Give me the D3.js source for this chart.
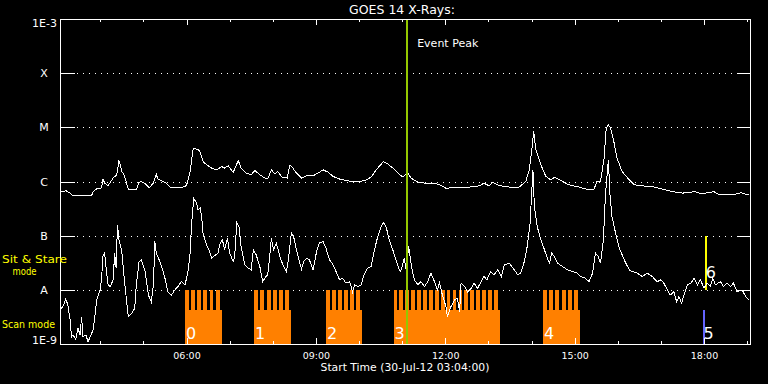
<!DOCTYPE html>
<html><head><meta charset="utf-8">
<script src="https://cdn.jsdelivr.net/npm/d3@7"></script>
<style>html,body{margin:0;background:#000;} svg{display:block}</style>
</head><body>
<svg id="c" width="768" height="384"></svg>
<script>
// ---------------- data ----------------
const chartTitle = "GOES 14 X-Rays:";
const xTitle = "Start Time (30-Jul-12 03:04:00)";
const startTime = "03:04", endTime = "19:04";
const yTickValues = [1e-9, 1e-8, 1e-7, 1e-6, 1e-5, 1e-4, 1e-3];
const yTickLabels = ["1E-9", "A", "B", "C", "M", "X", "1E-3"];
const eventPeak = "11:07";

// GOES long channel (1-8 A), flux W/m^2
const longChannel = [["03:04",6.6e-7],["03:13",6.7e-7],["03:18",6.1e-7],["03:22",5.5e-7],["03:48",5.5e-7],["03:50",6.5e-7],["03:55",7.3e-7],["04:00",7.3e-7],["04:02",8.0e-7],["04:04",1.12e-6],["04:06",9.3e-7],["04:11",8.4e-7],["04:18",1.16e-6],["04:23",1.33e-6],["04:26",2.44e-6],["04:28",2.03e-6],["04:30",1.53e-6],["04:32",1.43e-6],["04:34",1.24e-6],["04:39",7.2e-7],["04:41",7.0e-7],["04:50",7.0e-7],["04:54",9.7e-7],["04:57",1.0e-6],["05:02",9.3e-7],["05:08",7.7e-7],["05:14",9.3e-7],["05:18",1.37e-6],["05:20",1.11e-6],["05:27",1.0e-6],["05:32",9.3e-7],["05:37",7.9e-7],["05:55",7.9e-7],["06:00",8.4e-7],["06:05",1.53e-6],["06:09",3.85e-6],["06:11",4.13e-6],["06:16",3.85e-6],["06:18",3.73e-6],["06:23",2.34e-6],["06:28",2.03e-6],["06:35",1.77e-6],["06:42",1.64e-6],["06:49",1.89e-6],["06:53",1.77e-6],["06:58",1.95e-6],["07:05",1.47e-6],["07:12",2.44e-6],["07:16",1.77e-6],["07:23",1.43e-6],["07:30",1.33e-6],["07:35",1.6e-6],["07:42",1.33e-6],["07:49",1.16e-6],["07:53",1.11e-6],["07:58",1.64e-6],["08:03",1.37e-6],["08:07",1.53e-6],["08:13",1.19e-6],["08:20",1.16e-6],["08:24",2.03e-6],["08:27",1.84e-6],["08:33",1.43e-6],["08:40",1.16e-6],["08:47",1.27e-6],["08:56",1.27e-6],["09:03",1.43e-6],["09:10",1.64e-6],["09:17",1.49e-6],["09:24",1.24e-6],["09:33",1.11e-6],["09:42",1.04e-6],["09:51",1.0e-6],["10:01",9.9e-7],["10:10",1.07e-6],["10:17",1.21e-6],["10:24",1.64e-6],["10:34",2.34e-6],["10:40",2.1e-6],["10:47",1.77e-6],["10:54",1.43e-6],["11:01",1.21e-6],["11:08",1.47e-6],["11:12",1.16e-6],["11:22",9.7e-7],["11:33",9.3e-7],["11:45",9.3e-7],["11:52",8.7e-7],["12:01",7.5e-7],["12:20",7.9e-7],["12:34",7.9e-7],["12:47",8.3e-7],["12:54",9.3e-7],["13:01",8.3e-7],["13:06",9.7e-7],["13:15",8.4e-7],["13:29",7.9e-7],["13:43",7.9e-7],["13:52",1.0e-6],["13:57",1.64e-6],["14:01",4.42e-6],["14:03",8.7e-6],["14:06",3.85e-6],["14:13",2.03e-6],["14:20",1.24e-6],["14:27",1.07e-6],["14:32",1.19e-6],["14:39",1.07e-6],["14:52",8.7e-7],["15:06",7.9e-7],["15:20",7.0e-7],["15:27",7.2e-7],["15:31",1.0e-6],["15:36",1.0e-6],["15:41",2.7e-6],["15:44",9.7e-6],["15:47",1.11e-5],["15:50",9.7e-6],["15:55",5.1e-6],["15:59",2.7e-6],["16:06",1.53e-6],["16:16",1.07e-6],["16:23",8.7e-7],["16:34",8.3e-7],["16:48",8.1e-7],["16:57",7.5e-7],["17:16",6.5e-7],["17:30",6.1e-7],["17:48",6.5e-7],["17:53",6.1e-7],["18:02",6.1e-7],["18:14",6.5e-7],["18:21",5.65e-7],["18:39",5.65e-7],["18:51",6.2e-7],["19:02",5.65e-7]];

// GOES short channel (0.5-4 A), flux W/m^2
const shortChannel = [["03:05",4.4e-9],["03:09",5.2e-9],["03:12",6.8e-9],["03:15",5.2e-9],["03:18",2.8e-9],["03:20",1.36e-9],["03:22",1.47e-9],["03:26",1.22e-9],["03:29",1.95e-9],["03:32",1.47e-9],["03:34",3.2e-9],["03:36",1.36e-9],["03:40",1.47e-9],["03:43",1.1e-9],["03:47",1.47e-9],["03:50",1.81e-9],["03:53",3.7e-9],["03:55",6.5e-9],["04:00",1.0e-8],["04:02",1.76e-8],["04:04",4.4e-8],["04:06",4.76e-8],["04:09",2.03e-8],["04:11",1.24e-8],["04:14",1.15e-8],["04:18",1.53e-8],["04:20",4.76e-8],["04:22",2.52e-8],["04:24",1.58e-7],["04:26",8.4e-8],["04:30",5.1e-8],["04:34",1.33e-8],["04:39",3.2e-9],["04:44",3.7e-9],["04:48",4.55e-9],["04:50",1.15e-8],["04:54",3.33e-8],["04:57",3.58e-8],["05:02",2.34e-8],["05:07",8.0e-9],["05:11",6.0e-9],["05:14",1.24e-8],["05:16",7.8e-8],["05:18",4.76e-8],["05:23",3.33e-8],["05:27",2.34e-8],["05:30",1.64e-8],["05:34",9.2e-9],["05:39",8.0e-9],["05:44",1.0e-8],["05:48",1.15e-8],["05:53",1.42e-8],["05:58",1.24e-8],["06:02",2.15e-8],["06:05",4.76e-8],["06:07",1.58e-7],["06:10",4.9e-7],["06:14",3.98e-7],["06:16",3.0e-7],["06:19",3.2e-7],["06:21",2.25e-7],["06:23",1.11e-7],["06:28",6.8e-8],["06:32",5.1e-8],["06:35",3.85e-8],["06:39",4.24e-8],["06:44",4.76e-8],["06:46",6.8e-8],["06:50",8.4e-8],["06:53",5.5e-8],["06:57",9.0e-8],["07:00",4.76e-8],["07:05",3.33e-8],["07:07",4.1e-8],["07:10",1.75e-7],["07:13",1.47e-7],["07:16",6.3e-8],["07:21",2.89e-8],["07:26",2.52e-8],["07:30",2.34e-8],["07:33",5.5e-8],["07:37",4.4e-8],["07:42",2.7e-8],["07:46",1.42e-8],["07:50",1.72e-8],["07:53",1.89e-8],["07:56",4.4e-8],["07:58",9.0e-8],["08:01",5.5e-8],["08:05",7.3e-8],["08:10",4.1e-8],["08:14",2.89e-8],["08:19",2.18e-8],["08:22",3.85e-8],["08:26",1.14e-7],["08:29",9.6e-8],["08:33",5.5e-8],["08:37",3.33e-8],["08:40",2.41e-8],["08:43",3.33e-8],["08:47",3.85e-8],["08:51",3.58e-8],["08:56",2.34e-8],["09:01",5.1e-8],["09:05",7.3e-8],["09:10",7.8e-8],["09:14",5.9e-8],["09:19",3.58e-8],["09:24",2.89e-8],["09:28",2.18e-8],["09:33",1.53e-8],["09:37",1.64e-8],["09:42",1.33e-8],["09:47",1.42e-8],["09:51",9.2e-9],["09:54",1.24e-8],["09:58",1.15e-8],["10:03",1.24e-8],["10:07",1.89e-8],["10:12",2.52e-8],["10:17",2.7e-8],["10:21",5.1e-8],["10:26",9.6e-8],["10:31",1.47e-7],["10:34",1.75e-7],["10:38",1.42e-7],["10:42",8.4e-8],["10:47",5.5e-8],["10:51",3.73e-8],["10:56",2.34e-8],["10:58",2.18e-8],["11:03",3.85e-8],["11:06",2.18e-8],["11:09",6.3e-8],["11:13",2.7e-8],["11:17",1.53e-8],["11:22",1.24e-8],["11:26",1.42e-8],["11:31",1.15e-8],["11:35",1.36e-8],["11:40",2.03e-8],["11:45",1.42e-8],["11:49",1.0e-8],["11:52",1.35e-8],["11:56",8.0e-9],["12:01",4.9e-9],["12:03",3.2e-9],["12:08",4.9e-9],["12:13",6.5e-9],["12:17",7.0e-9],["12:20",3.95e-9],["12:22",1.33e-8],["12:27",1.15e-8],["12:31",9.2e-9],["12:36",1.07e-8],["12:40",1.33e-8],["12:45",1.07e-8],["12:50",1.42e-8],["12:54",1.76e-8],["12:58",1.53e-8],["13:03",2.18e-8],["13:08",1.89e-8],["13:13",2.34e-8],["13:18",1.76e-8],["13:22",2.89e-8],["13:29",3.11e-8],["13:36",2.34e-8],["13:41",1.89e-8],["13:45",2.03e-8],["13:50",3.33e-8],["13:54",6.3e-8],["13:58",1.7e-7],["14:00",5.26e-7],["14:02",1.64e-6],["14:04",3.45e-7],["14:08",1.47e-7],["14:13",8.4e-8],["14:18",5.5e-8],["14:22",3.85e-8],["14:25",3.11e-8],["14:28",4.76e-8],["14:32",4.1e-8],["14:36",3.11e-8],["14:43",2.7e-8],["14:50",2.34e-8],["14:57",2.18e-8],["15:04",2.03e-8],["15:08",1.76e-8],["15:15",1.64e-8],["15:20",1.42e-8],["15:25",2.03e-8],["15:29",4.76e-8],["15:33",4.1e-8],["15:36",3.11e-8],["15:40",8.4e-8],["15:43",6.1e-7],["15:47",2.52e-6],["15:49",6.1e-7],["15:52",2.25e-7],["15:57",1.11e-7],["16:02",5.95e-8],["16:09",3.58e-8],["16:16",2.34e-8],["16:20",2.18e-8],["16:27",2.03e-8],["16:34",1.76e-8],["16:41",2.03e-8],["16:48",1.76e-8],["16:55",1.42e-8],["17:00",1.53e-8],["17:04",1.33e-8],["17:09",1.0e-8],["17:13",8.0e-9],["17:18",9.2e-9],["17:22",6.0e-9],["17:25",7.5e-9],["17:29",5.6e-9],["17:32",8.0e-9],["17:37",1.24e-8],["17:42",1.33e-8],["17:46",1.64e-8],["17:51",1.24e-8],["17:55",1.53e-8],["18:00",1.07e-8],["18:04",1.33e-8],["18:09",1.15e-8],["18:12",1.64e-8],["18:16",1.24e-8],["18:23",1.42e-8],["18:27",1.15e-8],["18:32",1.33e-8],["18:37",1.15e-8],["18:41",1.33e-8],["18:46",9.2e-9],["18:53",1.0e-8],["18:58",7.5e-9],["19:02",6.5e-9]];

// instrument observing blocks
const scanBlocks = [
  {label:"0", start:"05:58", end:"06:49", frames:6},
  {label:"1", start:"07:34", end:"08:26", frames:6},
  {label:"2", start:"09:14", end:"10:04", frames:6},
  {label:"3", start:"10:48", end:"13:16", frames:18},
  {label:"4", start:"14:16", end:"15:08", frames:6}
];
const scanSingle = [{label:"5", start:"17:58", end:"18:01"}];
const sitStare = [{label:"6", start:"18:01", end:"18:04"}];

// ---------------- drawing ----------------
const parse = s => new Date(Date.UTC(2012, 6, 30, +s.slice(0, 2), +s.slice(3, 5)));
const L = 60, R = 750, T = 19, B = 344;
const x = d3.scaleUtc().domain([parse(startTime), parse(endTime)]).range([L, R]);
const y = d3.scaleLog().domain([1e-9, 1e-3]).range([B, T]);

const ORANGE = "#ff8000", GREEN = "#94c800", YELLOW = "#ffff00", BLUE = "#6464ff";
const FONT = "DejaVu Sans, sans-serif";
const svg = d3.select("#c");
svg.append("rect").attr("width", 768).attr("height", 384).attr("fill", "#000");

// grid
svg.append("g").selectAll("line").data(yTickValues.slice(1, -1)).join("line")
  .attr("x1", L + 17).attr("x2", R - 13)
  .attr("y1", d => Math.round(y(d)) + 0.5).attr("y2", d => Math.round(y(d)) + 0.5)
  .attr("stroke", "#fff").attr("stroke-dasharray", "1,5");

// scan blocks
const rowA = y(1e-8), rowMid = 310, rowB = y(1e-7);
const blocks = svg.append("g").attr("shape-rendering", "crispEdges");
scanBlocks.forEach(b => {
  const x0 = x(parse(b.start)), x1 = x(parse(b.end));
  const p = (x1 - x0) / b.frames;
  blocks.append("rect").attr("x", x0).attr("y", rowMid).attr("width", x1 - x0).attr("height", B - rowMid).attr("fill", ORANGE);
  blocks.selectAll(null).data(d3.range(b.frames)).join("rect")
    .attr("x", i => x0 + i * p).attr("y", rowA).attr("width", p * 0.64).attr("height", rowMid - rowA).attr("fill", ORANGE);
});
scanSingle.forEach(b => {
  blocks.append("rect").attr("x", x(parse(b.start))).attr("y", rowMid)
    .attr("width", x(parse(b.end)) - x(parse(b.start))).attr("height", B - rowMid).attr("fill", BLUE);
});
sitStare.forEach(b => {
  blocks.append("rect").attr("x", x(parse(b.start))).attr("y", rowB)
    .attr("width", x(parse(b.end)) - x(parse(b.start))).attr("height", rowA - rowB).attr("fill", YELLOW);
});

// curves
const line = d3.line().x(d => x(parse(d[0]))).y(d => y(d[1]));
[longChannel, shortChannel].forEach(s => {
  svg.append("path").datum(s).attr("d", line).attr("fill", "none")
    .attr("stroke", "#fff").attr("stroke-width", 1).attr("shape-rendering", "crispEdges");
});

// block labels
const labels = svg.append("g").attr("font-family", FONT).attr("font-size", 16).attr("fill", "#fff");
scanBlocks.concat(scanSingle).forEach(b => {
  labels.append("text").attr("x", x(parse(b.start)) + 1).attr("y", 339).text(b.label);
});
sitStare.forEach(b => {
  labels.append("text").attr("x", x(parse(b.start)) + 1).attr("y", 278).text(b.label);
});

// event peak
svg.append("line").attr("x1", x(parse(eventPeak))).attr("x2", x(parse(eventPeak)))
  .attr("y1", T).attr("y2", B).attr("stroke", GREEN).attr("stroke-width", 2).attr("shape-rendering", "crispEdges");
svg.append("text").attr("x", x(parse(eventPeak)) + 10).attr("y", 46.5)
  .attr("font-family", FONT).attr("font-size", 11).attr("fill", "#fff").text("Event Peak");

// frame
svg.append("rect").attr("x", L + 0.5).attr("y", T + 0.5).attr("width", R - L).attr("height", B - T)
  .attr("fill", "none").attr("stroke", "#fff").attr("shape-rendering", "crispEdges");

function styleAxis(g) {
  g.select(".domain").remove();
  g.selectAll("line").attr("stroke", "#fff").attr("shape-rendering", "crispEdges");
  g.selectAll("text").attr("fill", "#fff").attr("font-family", FONT);
}
// x axes
svg.append("g").attr("transform", `translate(0,${B})`)
  .call(d3.axisBottom(x).ticks(d3.utcHour.every(1)).tickSizeInner(-3).tickSizeOuter(0).tickFormat(""))
  .call(styleAxis);
svg.append("g").attr("transform", `translate(0,${B})`)
  .call(d3.axisBottom(x).ticks(d3.utcHour.every(3)).tickSizeInner(-6).tickSizeOuter(0).tickPadding(8)
    .tickFormat(d3.utcFormat("%H:%M")))
  .call(styleAxis).call(g => g.selectAll("text").attr("font-size", 9.5));
svg.append("g").attr("transform", `translate(0,${T})`)
  .call(d3.axisTop(x).ticks(d3.utcHour.every(1)).tickSizeInner(-3).tickSizeOuter(0).tickFormat(""))
  .call(styleAxis);
svg.append("g").attr("transform", `translate(0,${T})`)
  .call(d3.axisTop(x).ticks(d3.utcHour.every(3)).tickSizeInner(-6).tickSizeOuter(0).tickFormat(""))
  .call(styleAxis);

// y axes
svg.append("g").attr("transform", `translate(${L},0)`)
  .call(d3.axisLeft(y).tickValues(yTickValues.slice(1, -1)).tickSizeInner(-15).tickSizeOuter(0).tickFormat(""))
  .call(styleAxis);
svg.append("g").attr("transform", `translate(${R},0)`)
  .call(d3.axisRight(y).tickValues(yTickValues.slice(1, -1)).tickSizeInner(-13).tickSizeOuter(0).tickFormat(""))
  .call(styleAxis);
const yl = svg.append("g").attr("font-family", FONT).attr("font-size", 11).attr("fill", "#fff");
yTickValues.forEach((v, i) => {
  const lab = yTickLabels[i];
  if (i === 0) yl.append("text").attr("x", 57).attr("y", B).attr("text-anchor", "end").text(lab);
  else if (i === yTickValues.length - 1) yl.append("text").attr("x", 57).attr("y", T + 8).attr("text-anchor", "end").text(lab);
  else yl.append("text").attr("x", 44).attr("y", y(v) + 4).attr("text-anchor", "middle").text(lab);
});

// titles
svg.append("text").attr("x", 402).attr("y", 14).attr("text-anchor", "middle")
  .attr("font-family", FONT).attr("font-size", 12.5).attr("fill", "#fff").text(chartTitle);
svg.append("text").attr("x", 405).attr("y", 371).attr("text-anchor", "middle")
  .attr("font-family", FONT).attr("font-size", 10.8).attr("fill", "#fff").text(xTitle);

// mode labels
const ml = svg.append("g").attr("font-family", FONT).attr("font-size", 11).attr("fill", YELLOW);
ml.append("text").attr("x", 2).attr("y", 263).attr("textLength", 65).attr("lengthAdjust", "spacingAndGlyphs").text("Sit & Stare");
ml.append("text").attr("x", 12.5).attr("y", 275).attr("textLength", 24).attr("lengthAdjust", "spacingAndGlyphs").text("mode");
ml.append("text").attr("x", 2).attr("y", 328).attr("textLength", 53).attr("lengthAdjust", "spacingAndGlyphs").text("Scan mode");
</script>
</body></html>
